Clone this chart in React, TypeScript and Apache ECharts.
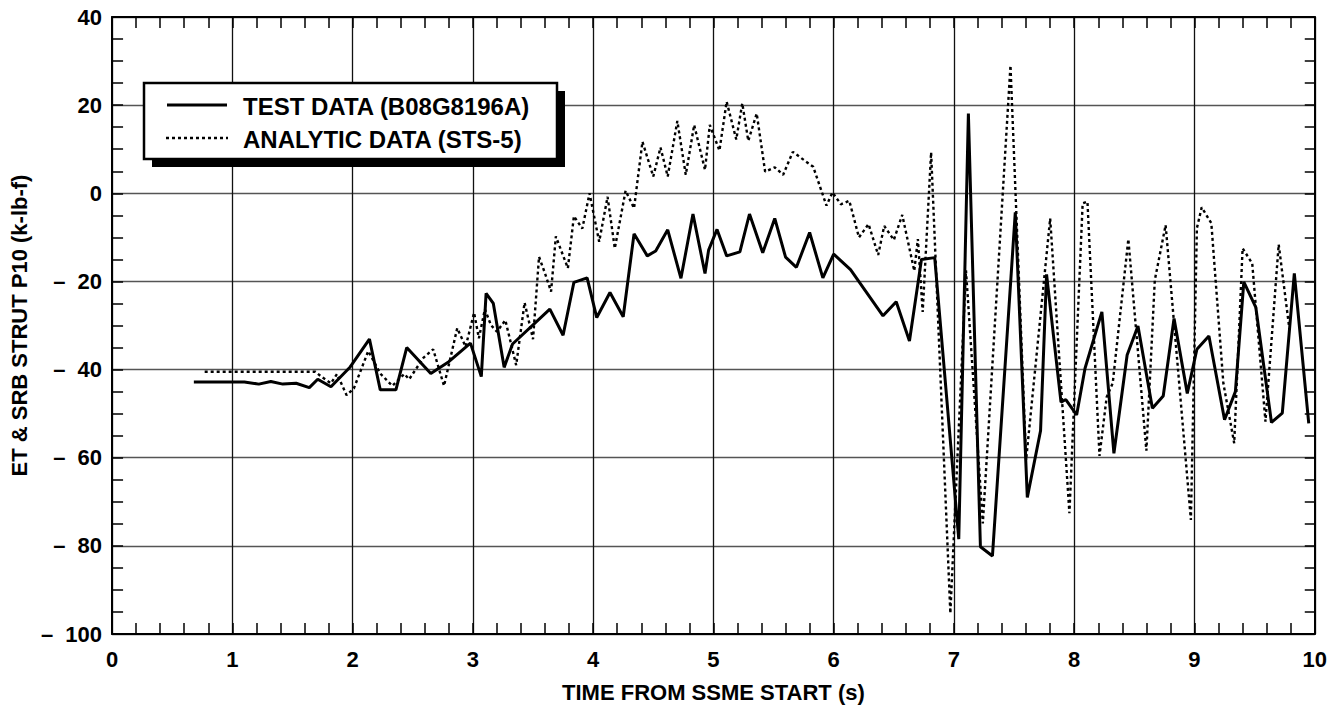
import React, { useEffect, useRef } from "react";
import * as echarts from "echarts";

const testX = [0.68, 1.1, 1.22, 1.32, 1.42, 1.53, 1.64, 1.71, 1.82, 1.98, 2.14, 2.23, 2.36, 2.45, 2.65, 2.8, 2.98, 3.07, 3.11, 3.17, 3.26, 3.33, 3.64, 3.75, 3.84, 3.95, 4.03, 4.14, 4.25, 4.34, 4.45, 4.52, 4.62, 4.73, 4.83, 4.93, 4.96, 5.03, 5.11, 5.22, 5.3, 5.41, 5.51, 5.6, 5.69, 5.8, 5.91, 6.0, 6.14, 6.41, 6.52, 6.63, 6.73, 6.84, 7.04, 7.12, 7.22, 7.32, 7.51, 7.61, 7.72, 7.77, 7.89, 7.93, 8.02, 8.09, 8.23, 8.33, 8.44, 8.53, 8.65, 8.74, 8.83, 8.94, 9.02, 9.12, 9.25, 9.34, 9.41, 9.51, 9.64, 9.73, 9.83, 9.95];
const testY = [-42.8, -42.8, -43.3, -42.7, -43.3, -43.1, -44.1, -42.2, -43.9, -39.4, -33.1, -44.6, -44.6, -35.0, -40.9, -38.2, -34.0, -41.6, -22.7, -25.0, -39.5, -34.2, -26.3, -32.2, -20.2, -19.2, -28.2, -22.5, -28.0, -9.2, -14.2, -13.1, -8.3, -19.3, -4.7, -18.2, -12.9, -8.2, -14.2, -13.3, -4.7, -13.5, -5.7, -14.5, -16.8, -8.9, -19.2, -13.8, -17.3, -27.8, -24.6, -33.5, -15.0, -14.6, -78.5, 18.1, -80.2, -82.3, -4.3, -69.0, -53.9, -18.4, -47.4, -46.8, -50.3, -39.7, -26.9, -59.0, -36.7, -30.1, -48.8, -46.0, -28.4, -45.4, -35.4, -32.4, -51.4, -45.0, -20.1, -25.9, -52.0, -49.9, -18.2, -52.2];

const analyticX = [0.77, 1.69, 1.74, 1.82, 1.87, 1.95, 2.01, 2.13, 2.23, 2.33, 2.43, 2.47, 2.59, 2.67, 2.76, 2.87, 2.94, 3.01, 3.05, 3.1, 3.15, 3.2, 3.27, 3.36, 3.43, 3.5, 3.55, 3.6, 3.65, 3.69, 3.79, 3.84, 3.91, 3.97, 4.05, 4.12, 4.18, 4.27, 4.34, 4.41, 4.5, 4.56, 4.62, 4.7, 4.77, 4.84, 4.93, 4.97, 5.05, 5.11, 5.19, 5.24, 5.29, 5.36, 5.43, 5.51, 5.58, 5.66, 5.83, 5.94, 5.99, 6.06, 6.13, 6.21, 6.29, 6.37, 6.42, 6.5, 6.57, 6.67, 6.7, 6.74, 6.81, 6.97, 7.1, 7.24, 7.47, 7.6, 7.8, 7.96, 8.07, 8.11, 8.21, 8.27, 8.32, 8.45, 8.6, 8.67, 8.76, 8.97, 9.02, 9.06, 9.14, 9.24, 9.33, 9.4, 9.48, 9.59, 9.7, 9.79];
const analyticY = [-40.5, -40.5, -41.6, -43.1, -41.0, -45.8, -44.3, -35.8, -40.9, -43.7, -41.0, -42.2, -37.3, -35.4, -43.7, -30.6, -34.8, -27.1, -32.9, -26.3, -29.9, -31.4, -28.8, -39.0, -24.8, -33.1, -14.4, -18.2, -22.3, -9.8, -17.0, -5.2, -8.0, 0.0, -11.0, -0.8, -12.5, 0.6, -3.4, 11.7, 3.8, 10.4, 3.8, 16.4, 4.2, 15.5, 5.3, 15.5, 9.7, 20.8, 12.2, 20.4, 11.9, 18.1, 4.9, 5.9, 4.2, 9.4, 6.0, -2.8, 0.2, -2.5, -1.7, -10.0, -7.0, -14.0, -7.4, -10.6, -4.9, -17.6, -10.4, -26.9, 9.3, -95.3, -17.5, -74.9, 29.0, -60.5, -5.7, -72.6, -2.3, -1.9, -59.6, -46.2, -43.1, -10.4, -58.4, -19.7, -7.2, -74.1, -7.9, -3.2, -6.8, -43.1, -56.7, -12.5, -15.9, -51.8, -11.6, -31.0];

const seriesNames = ["TEST DATA (B08G8196A)", "ANALYTIC DATA (STS-5)"];
const xTitle = "TIME FROM SSME START (s)";
const yTitle = "ET & SRB STRUT P10 (k-lb-f)";

const FONT = "'Liberation Sans', Arial, Helvetica, sans-serif";

export default function App() {
  const ref = useRef<HTMLDivElement>(null);
  useEffect(() => {
    if (!ref.current) return;
    const chart = echarts.init(ref.current, null, { renderer: "svg" });
    const testData = testX.map((x, i) => [x, testY[i]]);
    const anaData = analyticX.map((x, i) => [x, analyticY[i]]);
    const tickStyle = { color: "#000", width: 1.5 };
    const labelStyle = { color: "#000", fontFamily: FONT, fontWeight: "bold" as const, fontSize: 22 };
    const legendText = { fill: "#000", fontFamily: FONT, fontWeight: "bold", fontSize: 24, verticalAlign: "middle", align: "left" };
    chart.setOption({
      animation: false,
      backgroundColor: "#fff",
      grid: { left: 111, right: 15, top: 17, bottom: 85, containLabel: false },
      xAxis: [
        {
          type: "value", min: 0, max: 10, interval: 1, position: "bottom",
          name: xTitle, nameLocation: "middle", nameGap: 47,
          nameTextStyle: { ...labelStyle, fontSize: 22 },
          axisLine: { show: true, onZero: false, lineStyle: { color: "#000", width: 2 } },
          axisTick: { show: true, inside: true, length: 11, lineStyle: tickStyle },
          minorTick: { show: true, splitNumber: 5, length: 11, lineStyle: tickStyle },
          splitLine: { show: true, lineStyle: { color: "#111", width: 1.3 } },
          axisLabel: { ...labelStyle, margin: 14 },
        },
        {
          type: "value", min: 0, max: 10, interval: 1, position: "top",
          axisLine: { show: true, onZero: false, lineStyle: { color: "#000", width: 2 } },
          axisTick: { show: true, inside: true, length: 11, lineStyle: tickStyle },
          minorTick: { show: true, splitNumber: 5, length: 11, lineStyle: tickStyle },
          splitLine: { show: false },
          axisLabel: { show: false },
        },
      ],
      yAxis: [
        {
          type: "value", min: -100, max: 40, interval: 20, position: "left",
          name: yTitle, nameLocation: "middle", nameGap: 82, nameRotate: 90,
          nameTextStyle: { ...labelStyle, fontSize: 22 },
          axisLine: { show: true, onZero: false, lineStyle: { color: "#000", width: 2 } },
          axisTick: { show: true, inside: true, length: 11, lineStyle: tickStyle },
          minorTick: { show: true, splitNumber: 4, length: 11, lineStyle: tickStyle },
          splitLine: { show: true, lineStyle: { color: "#555", width: 1.3 } },
          axisLabel: {
            ...labelStyle, margin: 10,
            formatter: (v: number) => (v < 0 ? "\u2013  " + Math.abs(v) : String(v)),
          },
        },
        {
          type: "value", min: -100, max: 40, interval: 20, position: "right",
          axisLine: { show: true, onZero: false, lineStyle: { color: "#000", width: 2 } },
          axisTick: { show: true, inside: true, length: 10, lineStyle: tickStyle },
          minorTick: { show: true, splitNumber: 4, length: 10, lineStyle: tickStyle },
          splitLine: { show: false },
          axisLabel: { show: false },
        },
      ],
      graphic: [
        { type: "rect", z: 10, shape: { x: 152, y: 91, width: 413, height: 76 }, style: { fill: "#000" } },
        { type: "rect", z: 11, shape: { x: 144, y: 83, width: 413, height: 76 }, style: { fill: "#fff", stroke: "#000", lineWidth: 2.5 } },
        { type: "line", z: 12, shape: { x1: 167, y1: 105, x2: 227, y2: 105 }, style: { stroke: "#000", lineWidth: 3 } },
        { type: "line", z: 12, shape: { x1: 166, y1: 138, x2: 228, y2: 138 }, style: { stroke: "#000", lineWidth: 2.4, lineDash: [3, 3] } },
        { type: "text", z: 12, x: 243, y: 106, style: { ...legendText, text: seriesNames[0] } },
        { type: "text", z: 12, x: 243, y: 139, style: { ...legendText, text: seriesNames[1] } },
      ],
      series: [
        {
          name: seriesNames[0], type: "line", data: testData, symbol: "none", showSymbol: false,
          xAxisIndex: 0, yAxisIndex: 0, z: 3,
          lineStyle: { color: "#000", width: 3, type: "solid" },
          itemStyle: { color: "#000" },
        },
        {
          name: seriesNames[1], type: "line", data: anaData, symbol: "none", showSymbol: false,
          xAxisIndex: 0, yAxisIndex: 0, z: 2,
          lineStyle: { color: "#000", width: 2.4, type: [3, 3] },
          itemStyle: { color: "#000" },
        },
      ],
    });
    return () => chart.dispose();
  }, []);
  return (
    <div
      ref={ref}
      style={{ position: "fixed", left: 0, top: 0, width: 1330, height: 719, background: "#fff" }}
    />
  );
}
